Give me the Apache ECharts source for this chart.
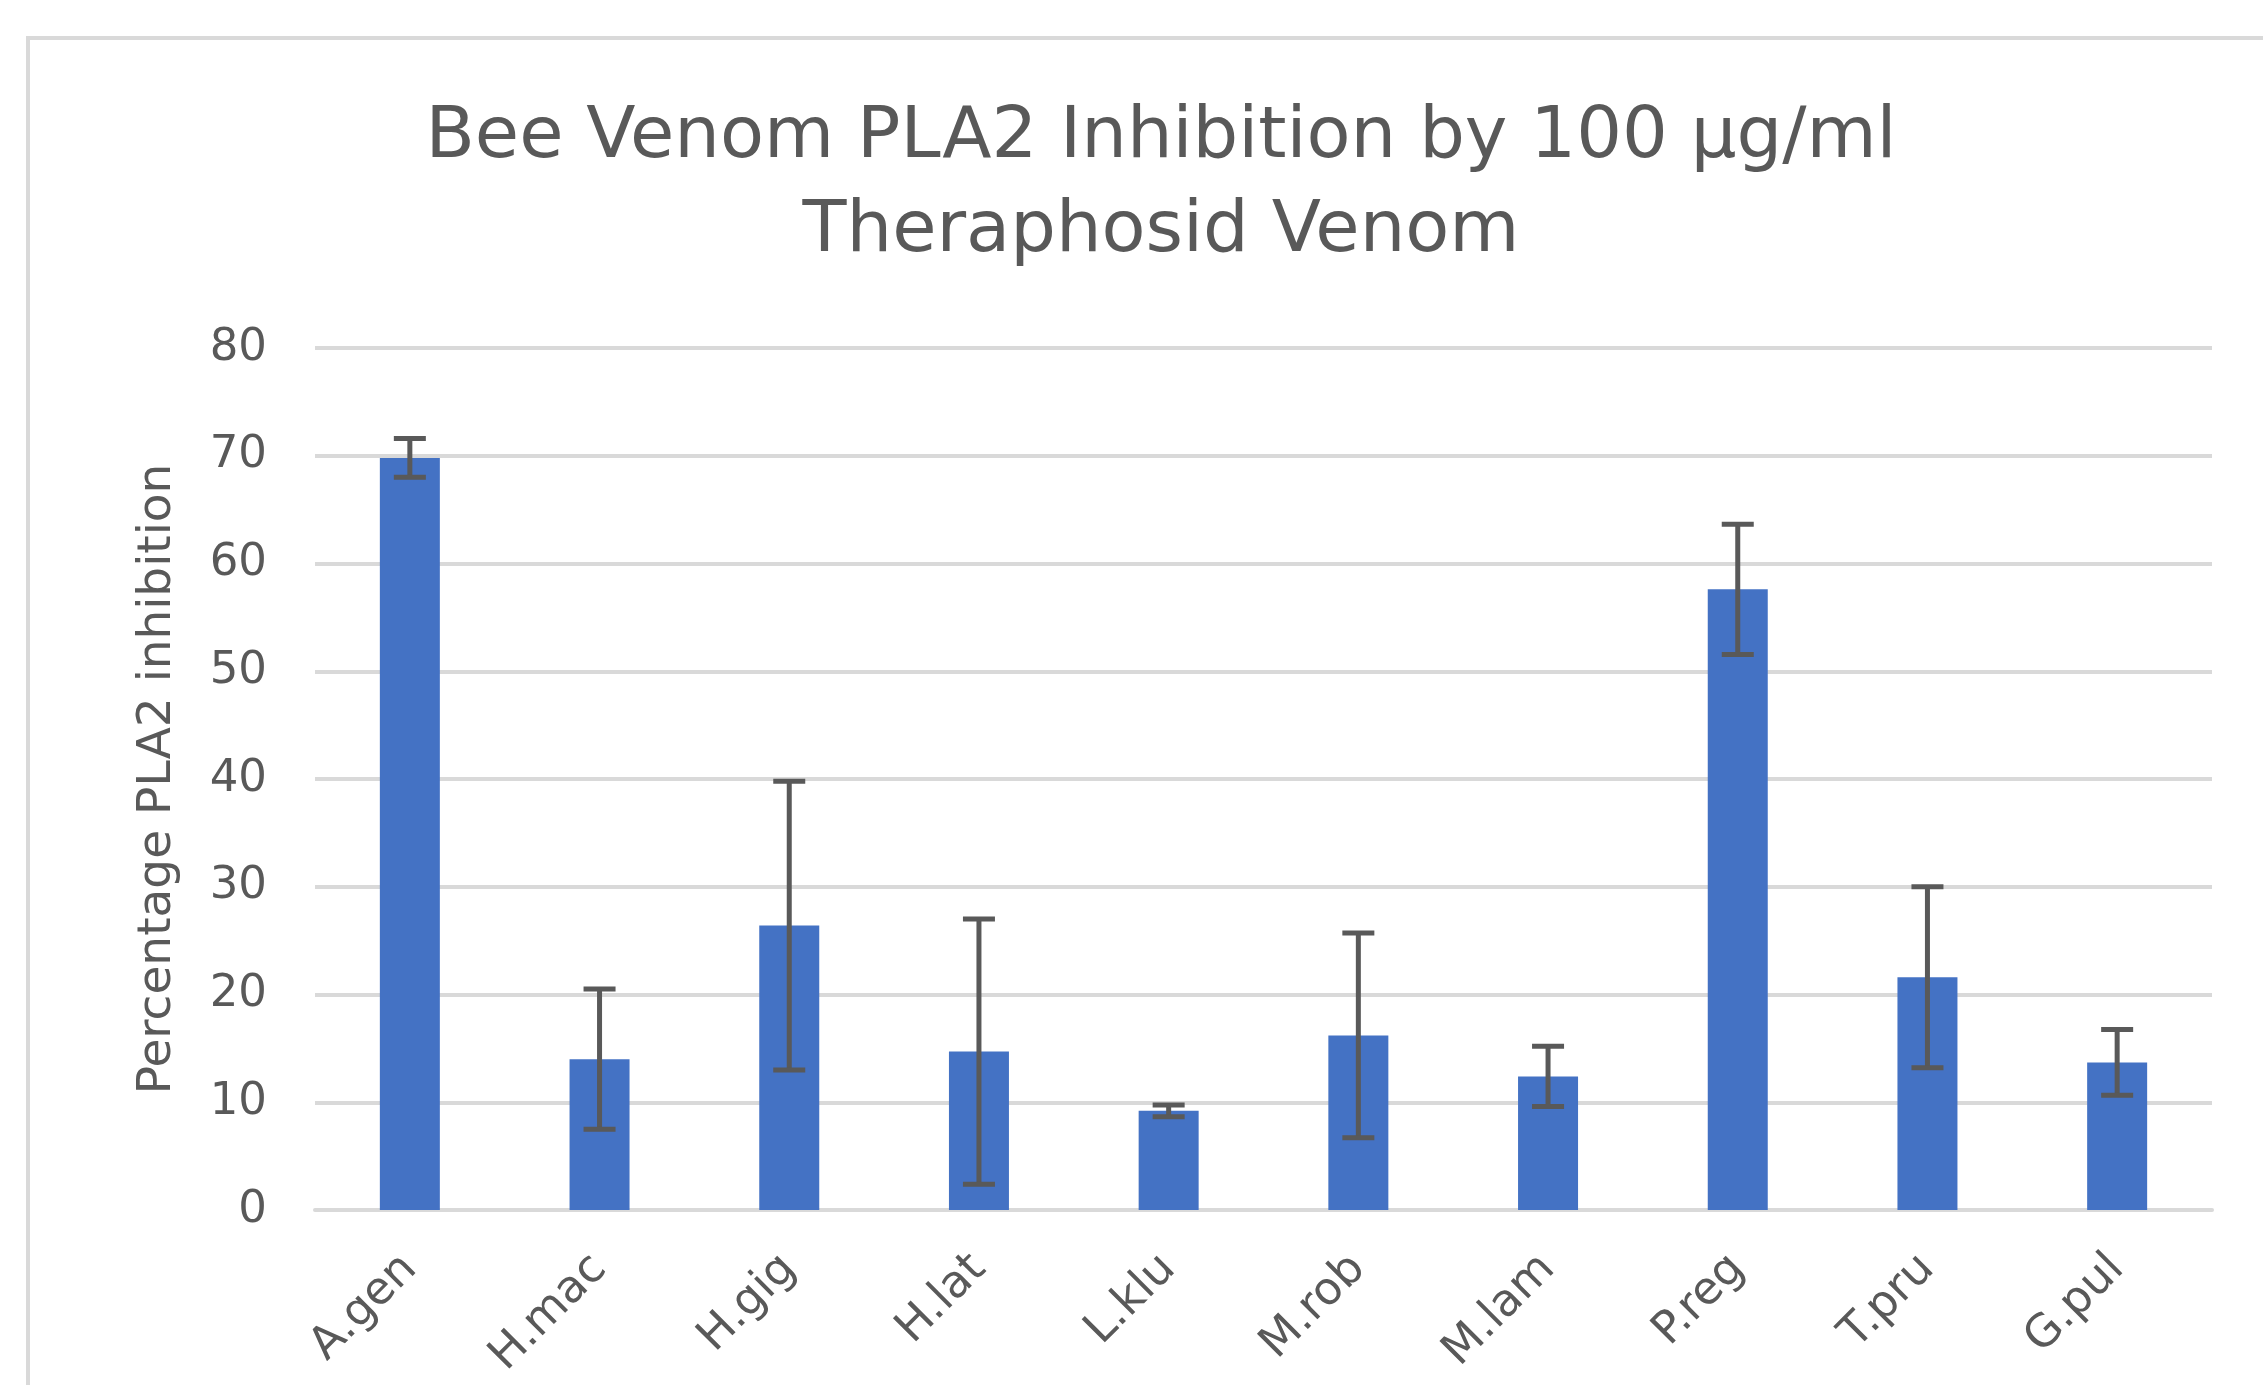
<!DOCTYPE html>
<html>
<head>
<meta charset="utf-8">
<title>Bee Venom PLA2 Inhibition</title>
<script src="https://cdn.jsdelivr.net/npm/echarts@6/dist/echarts.min.js"></script>
<style>
  html, body { margin: 0; padding: 0; background: #fff; }
  #main { width: 2263px; height: 1385px; }
</style>
</head>
<body>
<div id="main"></div>
<script>
// species (x axis)
var categories = ['A.gen', 'H.mac', 'H.gig', 'H.lat', 'L.klu', 'M.rob', 'M.lam', 'P.reg', 'T.pru', 'G.pul'];
// mean % inhibition
var inhibition = [69.8, 14.0, 26.4, 14.7, 9.2, 16.2, 12.4, 57.6, 21.6, 13.7];
// error bar half length (+/-)
var errorSize = [1.8, 6.5, 13.4, 12.3, 0.55, 9.5, 2.8, 6.05, 8.4, 3.05];
// y axis ticks
var yTicks = [0, 10, 20, 30, 40, 50, 60, 70, 80];

var textColor = '#595959';
var gridColor = '#D9D9D9';
var font = 'DejaVu Sans';

var errorData = categories.map(function (c, i) {
    return [i, inhibition[i] - errorSize[i], inhibition[i] + errorSize[i]];
});

function renderError(params, api) {
    var i = api.value(0);
    var top = api.coord([i, api.value(2)]);
    var bot = api.coord([i, api.value(1)]);
    var half = 16;
    var st = { stroke: '#595959', lineWidth: 5 };
    return {
        type: 'group',
        children: [
            { type: 'line', shape: { x1: top[0], y1: top[1], x2: bot[0], y2: bot[1] }, style: st },
            { type: 'line', shape: { x1: top[0] - half, y1: top[1], x2: top[0] + half, y2: top[1] }, style: st },
            { type: 'line', shape: { x1: bot[0] - half, y1: bot[1], x2: bot[0] + half, y2: bot[1] }, style: st }
        ]
    };
}

var myChart = echarts.init(document.getElementById('main'));
var option = {
    backgroundColor: '#fff',
    animation: false,
    graphic: [
        {
            type: 'rect',
            shape: { x: 28, y: 38, width: 3000, height: 3000 },
            style: { fill: 'none', stroke: gridColor, lineWidth: 4 },
            z: -1
        }
    ],
    title: {
        text: 'Bee Venom PLA2 Inhibition by 100 µg/ml\nTheraphosid Venom',
        left: 1156,
        top: 86,
        textAlign: 'center',
        textStyle: {
            color: textColor,
            fontFamily: font,
            fontWeight: 'normal',
            fontSize: 72,
            lineHeight: 94
        }
    },
    grid: { left: 315, right: 51, top: 348, bottom: 175 },
    xAxis: {
        type: 'category',
        data: categories,
        axisLine: { show: true, lineStyle: { color: gridColor, width: 4 } },
        axisTick: { show: false },
        axisLabel: {
            rotate: 45,
            margin: 52,
            color: textColor,
            fontFamily: font,
            fontSize: 45
        }
    },
    yAxis: {
        type: 'value',
        min: yTicks[0],
        max: yTicks[yTicks.length - 1],
        interval: 10,
        name: 'Percentage PLA2 inhibition',
        nameLocation: 'middle',
        nameGap: 134,
        nameTextStyle: {
            color: textColor,
            fontFamily: font,
            fontSize: 47
        },
        axisLine: { show: false },
        axisTick: { show: false },
        axisLabel: {
            margin: 48,
            color: textColor,
            fontFamily: font,
            fontSize: 45
        },
        splitLine: { lineStyle: { color: gridColor, width: 4 } }
    },
    series: [
        {
            type: 'bar',
            data: inhibition,
            barWidth: 60,
            itemStyle: { color: '#4472C4' }
        },
        {
            type: 'custom',
            renderItem: renderError,
            data: errorData,
            encode: { x: 0, y: [1, 2] },
            z: 10
        }
    ]
};
myChart.setOption(option);
</script>
</body>
</html>
